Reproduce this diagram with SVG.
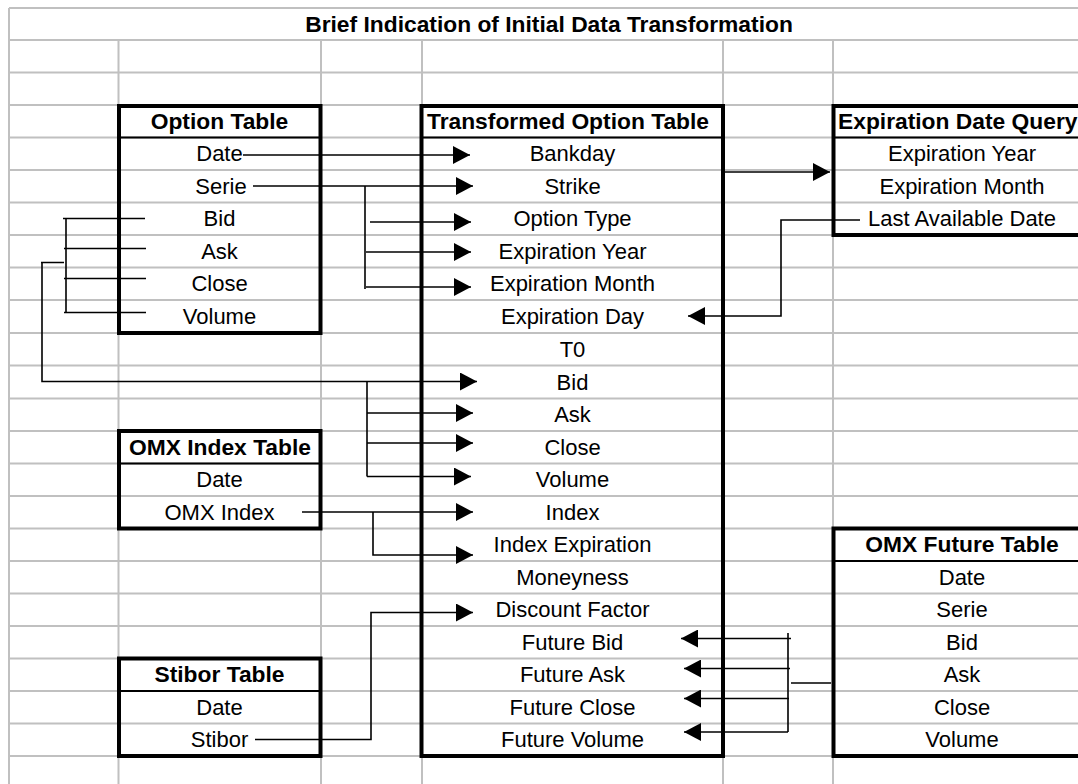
<svg xmlns="http://www.w3.org/2000/svg" width="1078" height="784" viewBox="0 0 1078 784">
<style>
.g{stroke:#c0c0c0;stroke-width:2;fill:none}
.tb{fill:none;stroke:#000;stroke-width:4}
.hs{stroke:#000;stroke-width:2}
text{font-family:"Liberation Sans",Arial,sans-serif;font-size:22px;fill:#000}
.h{font-weight:bold;font-size:22.8px}
.c{text-anchor:middle}
.cn path{fill:none;stroke:#000;stroke-width:1.6}
</style>
<defs>
<marker id="arr" markerUnits="userSpaceOnUse" markerWidth="17" markerHeight="18" refX="17" refY="9" orient="auto" viewBox="0 0 17 18">
<path d="M0,0 L17,9 L0,18 z" fill="#000"/>
</marker>
</defs>
<rect x="0" y="0" width="1078" height="784" fill="#fff"/>
<g id="grid" class="g">
<path d="M9,8H1078M9,40H1078M9,72.5H1078M9,105H1078M9,137.5H1078M9,170H1078M9,202.5H1078M9,235H1078M9,267.5H1078M9,300H1078M9,333H1078M9,365.5H1078M9,398.5H1078M9,431H1078M9,463.5H1078M9,496H1078M9,528.5H1078M9,561H1078M9,593.5H1078M9,626H1078M9,658.5H1078M9,691H1078M9,723.5H1078M9,756H1078"/>
<path d="M9,8V784M118.5,40V784M321,40V784M422,40V784M723,40V784M833,40V784"/>
</g>
<g id="title">
<text class="h c" x="549" y="31.5">Brief Indication of Initial Data Transformation</text>
</g>
<g id="option-table">
<rect class="tb" x="119" y="106" width="201.5" height="227"/>
<line class="hs" x1="119" y1="137.5" x2="320.5" y2="137.5"/>
<text class="h c" x="219.5" y="128.5">Option Table</text>
<text class="c" x="219.5" y="161">Date</text>
<text class="c" x="221" y="193.5">Serie</text>
<text class="c" x="219.5" y="226">Bid</text>
<text class="c" x="219.5" y="258.5">Ask</text>
<text class="c" x="219.5" y="291">Close</text>
<text class="c" x="219.5" y="324">Volume</text>
</g>
<g id="transformed-option-table">
<rect class="tb" x="421.5" y="106" width="301.5" height="650"/>
<line class="hs" x1="421.5" y1="137.5" x2="723" y2="137.5"/>
<text class="h c" x="568" y="128.5">Transformed Option Table</text>
<text class="c" x="572.5" y="161">Bankday</text>
<text class="c" x="572.5" y="193.5">Strike</text>
<text class="c" x="572.5" y="226">Option Type</text>
<text class="c" x="572.5" y="258.5">Expiration Year</text>
<text class="c" x="572.5" y="291">Expiration Month</text>
<text class="c" x="572.5" y="324">Expiration Day</text>
<text class="c" x="572.5" y="356.5">T0</text>
<text class="c" x="572.5" y="389.5">Bid</text>
<text class="c" x="572.5" y="422">Ask</text>
<text class="c" x="572.5" y="454.5">Close</text>
<text class="c" x="572.5" y="487">Volume</text>
<text class="c" x="572.5" y="519.5">Index</text>
<text class="c" x="572.5" y="552">Index Expiration</text>
<text class="c" x="572.5" y="584.5">Moneyness</text>
<text class="c" x="572.5" y="617">Discount Factor</text>
<text class="c" x="572.5" y="649.5">Future Bid</text>
<text class="c" x="572.5" y="682">Future Ask</text>
<text class="c" x="572.5" y="714.5">Future Close</text>
<text class="c" x="572.5" y="747">Future Volume</text>
</g>
<g id="expiration-date-query">
<rect class="tb" x="833.5" y="106" width="270" height="129"/>
<line class="hs" x1="833.5" y1="137.5" x2="1078" y2="137.5"/>
<text class="h" x="838" y="128.5">Expiration Date Query</text>
<text class="c" x="962" y="161">Expiration Year</text>
<text class="c" x="962" y="193.5">Expiration Month</text>
<text class="c" x="962" y="226">Last Available Date</text>
</g>
<g id="omx-index-table">
<rect class="tb" x="119" y="431" width="201.5" height="97.5"/>
<line class="hs" x1="119" y1="463.5" x2="320.5" y2="463.5"/>
<text class="h c" x="220" y="454.5">OMX Index Table</text>
<text class="c" x="219.5" y="487">Date</text>
<text class="c" x="219.5" y="519.5">OMX Index</text>
</g>
<g id="omx-future-table">
<rect class="tb" x="833.5" y="528.5" width="270" height="227.5"/>
<line class="hs" x1="833.5" y1="561" x2="1078" y2="561"/>
<text class="h c" x="962" y="552">OMX Future Table</text>
<text class="c" x="962" y="584.5">Date</text>
<text class="c" x="962" y="617">Serie</text>
<text class="c" x="962" y="649.5">Bid</text>
<text class="c" x="962" y="682">Ask</text>
<text class="c" x="962" y="714.5">Close</text>
<text class="c" x="962" y="747">Volume</text>
</g>
<g id="stibor-table">
<rect class="tb" x="119" y="658.5" width="201.5" height="97.5"/>
<line class="hs" x1="119" y1="691" x2="320.5" y2="691"/>
<text class="h c" x="219.5" y="682">Stibor Table</text>
<text class="c" x="219.5" y="714.5">Date</text>
<text class="c" x="219.5" y="747">Stibor</text>
</g>
<g id="connectors" class="cn">
<path d="M243,155H470" marker-end="url(#arr)"/>
<path d="M253,186H473" marker-end="url(#arr)"/>
<path d="M365,186V289"/>
<path d="M370,222H471" marker-end="url(#arr)"/>
<path d="M366,252H471" marker-end="url(#arr)"/>
<path d="M366,287H471" marker-end="url(#arr)"/>
<path d="M723,172H830" marker-end="url(#arr)"/>
<path d="M860,220H781V316H688" marker-end="url(#arr)"/>
<path d="M63,218.5H145M64,248.5H146M64,278.5H146M64,312.5H146M66,218.5V312.5M41,262.5H64"/>
<path d="M42,262.5V381.5H477" marker-end="url(#arr)"/>
<path d="M367,381.5V476.5"/>
<path d="M367,413H473" marker-end="url(#arr)"/>
<path d="M367,443H473" marker-end="url(#arr)"/>
<path d="M367,476.5H471" marker-end="url(#arr)"/>
<path d="M302,512H473" marker-end="url(#arr)"/>
<path d="M373,512V555H473" marker-end="url(#arr)"/>
<path d="M255,739.5H371V612.5H473" marker-end="url(#arr)"/>
<path d="M788,633V732M791,683H831"/>
<path d="M791,638.5H681" marker-end="url(#arr)"/>
<path d="M790,668.5H684" marker-end="url(#arr)"/>
<path d="M789,698.5H684" marker-end="url(#arr)"/>
<path d="M788,732H684" marker-end="url(#arr)"/>
</g>
</svg>
